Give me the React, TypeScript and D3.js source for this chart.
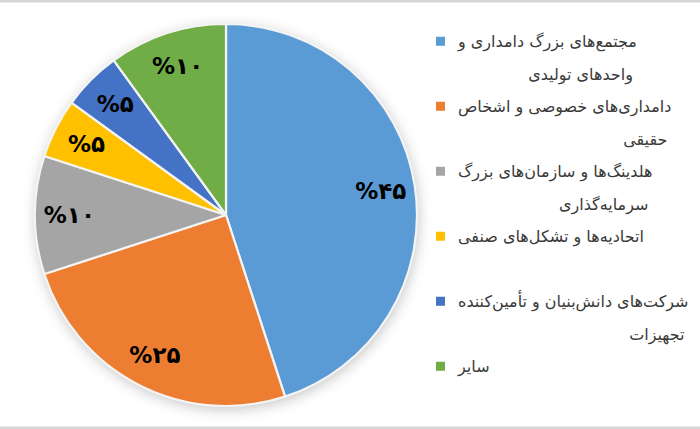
import React, { useEffect, useRef } from "react";
import * as d3 from "d3";

const categories = [
  "مجتمع‌های بزرگ دامداری و واحدهای تولیدی",
  "دامداری‌های خصوصی و اشخاص حقیقی",
  "هلدینگ‌ها و سازمان‌های بزرگ سرمایه‌گذاری",
  "اتحادیه‌ها و تشکل‌های صنفی",
  "شرکت‌های دانش‌بنیان و تأمین‌کننده تجهیزات",
  "سایر",
];
const values = [45, 25, 10, 5, 5, 10];
const colors = ["#5B9BD5", "#ED7D31", "#A5A5A5", "#FFC000", "#4472C4", "#70AD47"];
const legendLines = [
  ["مجتمع‌های بزرگ دامداری و", "واحدهای تولیدی"],
  ["دامداری‌های خصوصی و اشخاص", "حقیقی"],
  ["هلدینگ‌ها و سازمان‌های بزرگ", "سرمایه‌گذاری"],
  ["اتحادیه‌ها و تشکل‌های صنفی"],
  ["شرکت‌های دانش‌بنیان و تأمین‌کننده", "تجهیزات"],
  ["سایر"],
];

const W = 700;
const H = 429;
const persianDigits = "۰۱۲۳۴۵۶۷۸۹";
const toPersian = (n: number) => String(n).replace(/[0-9]/g, (d) => persianDigits[+d]);

export default function App() {
  const ref = useRef<SVGSVGElement>(null);
  useEffect(() => {
    const svg = d3.select(ref.current);
    svg.selectAll("*").remove();

    const defs = svg.append("defs");
    const f = defs.append("filter").attr("id", "shadow").attr("x", "-20%").attr("y", "-20%").attr("width", "140%").attr("height", "140%");
    f.append("feDropShadow").attr("dx", 1).attr("dy", 3).attr("stdDeviation", 7)
      .attr("flood-color", "#000").attr("flood-opacity", 0.24);

    svg.append("rect").attr("width", W).attr("height", H).attr("fill", "#fff");
    svg.append("rect").attr("x", 0).attr("y", 0).attr("width", W).attr("height", 2.5).attr("fill", "#d6d6d6");
    svg.append("rect").attr("x", 0).attr("y", H - 2.5).attr("width", W).attr("height", 2.5).attr("fill", "#d6d6d6");

    const cx = 226, cy = 215, r = 191;
    const data = values.map((v, i) => ({ v, i }));
    const pie = d3.pie<{ v: number; i: number }>().value((d) => d.v).sort(null);
    const arcs = pie(data);
    const arc = d3.arc<d3.PieArcDatum<{ v: number; i: number }>>().innerRadius(0).outerRadius(r);
    const labelArc = d3.arc<d3.PieArcDatum<{ v: number; i: number }>>().innerRadius(r * 0.82).outerRadius(r * 0.82);

    const g = svg.append("g").attr("transform", `translate(${cx},${cy})`);
    g.append("circle").attr("r", r).attr("fill", "#fff").attr("filter", "url(#shadow)");
    g.selectAll("path.slice").data(arcs).enter().append("path")
      .attr("class", "slice")
      .attr("d", arc as any)
      .attr("fill", (d) => colors[d.data.i])
      .attr("stroke", "#f4f4f4")
      .attr("stroke-width", 2.2)
      .attr("stroke-linejoin", "round");

    g.selectAll("text.lbl").data(arcs).enter().append("text")
      .attr("class", "lbl")
      .attr("x", (d) => labelArc.centroid(d)[0])
      .attr("y", (d) => labelArc.centroid(d)[1])
      .attr("dy", "0.35em")
      .attr("text-anchor", "middle")
      .attr("font-family", "DejaVu Sans")
      .attr("font-weight", "bold")
      .attr("font-size", 23)
      .attr("fill", "#000")
      .attr("direction", "ltr")
      .text((d) => "%" + toPersian(d.data.v));

    // legend
    const band = d3.scaleBand<number>().domain(d3.range(categories.length)).range([25, 25 + 65 * categories.length]);
    const lineH = band.bandwidth() / 2;
    const sqX = 436, sq = 9, textX = 458;
    const fs = 16;
    const lg = svg.append("g");
    legendLines.forEach((lines, i) => {
      const top = band(i)!;
      const c0 = top + lineH / 2;
      lg.append("rect").attr("x", sqX).attr("y", c0 - sq / 2).attr("width", sq).attr("height", sq).attr("fill", colors[i]);
      const first = lg.append("text")
        .attr("x", textX).attr("y", c0 + 6)
        .attr("font-family", "DejaVu Sans").attr("font-size", fs).attr("fill", "#3a3a3a")
        .text(lines[0]);
      const w = (first.node() as SVGTextElement).getComputedTextLength();
      lines.slice(1).forEach((ln, j) => {
        lg.append("text")
          .attr("x", textX + w - 4).attr("y", c0 + 6 + lineH * (j + 1))
          .attr("text-anchor", "end")
          .attr("font-family", "DejaVu Sans").attr("font-size", fs).attr("fill", "#3a3a3a")
          .text(ln);
      });
    });
  }, []);
  return <svg ref={ref} width={W} height={H} style={{ position: "absolute", left: 0, top: 0 }} />;
}
